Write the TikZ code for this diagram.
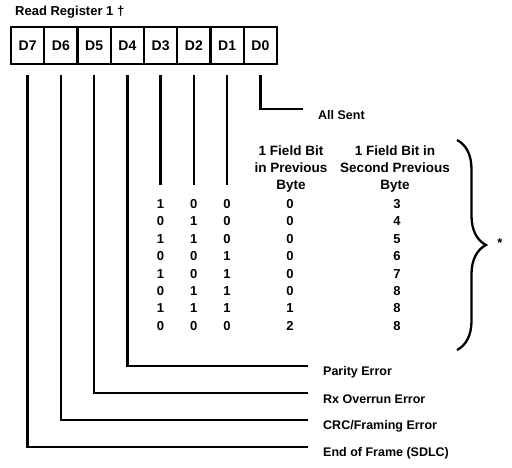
\documentclass[tikz,border=0pt]{standalone}
\usepackage{fontspec}
\setmainfont{Liberation Sans}
\usetikzlibrary{decorations.pathreplacing}
\tikzset{
  regbox/.style={draw, line width=2.4pt, minimum width=33.25pt, minimum height=37pt, inner sep=0pt,
    font=\bfseries\fontsize{14}{16}\selectfont},
  wire/.style={line width=2.6pt},
  lbl/.style={anchor=west, inner sep=0pt, font=\bfseries\fontsize{12.5}{14}\selectfont},
  cell/.style={inner sep=0pt, font=\bfseries\fontsize{13}{15}\selectfont},
  head/.style={inner sep=0pt, align=center, font=\bfseries\fontsize{13.5}{17}\selectfont},
}
\begin{document}
\begin{tikzpicture}[x=1pt,y=-1pt]
\useasboundingbox (0,0) rectangle (512,467);
\node[anchor=west, inner sep=0pt, font=\bfseries\fontsize{13}{15}\selectfont] (title) at (15,12) {Read Register 1 \textdagger};
% register boxes
\foreach \n [count=\i from 0] in {7,6,5,4,3,2,1,0} {
  \node[regbox] (d\n) at ({27.6+33.25*\i},45.5) {D\n};
}
% start coordinates of wires
\foreach \n in {7,6,5,4,3,2,1,0} {
  \coordinate (s\n) at ([yshift=-10pt]d\n.south);
}
% D0 -> All Sent
\node[lbl] (allsent) at (318,115) {All Sent};
\draw[wire] (s0) |- ([xshift=-15pt,yshift=6pt]allsent.west);
% D3..D1 short lines
\foreach \n in {3,2,1} {
  \coordinate (e\n) at (s\n |- 0,185);
  \draw[wire] (s\n) -- (e\n);
}
% table headers
\node[head] (h1) at (291,169) {1 Field Bit\\in Previous\\Byte};
\node[head] (h2) at (395,169) {1 Field Bit in\\Second Previous\\Byte};
% table rows
\foreach \a/\b/\c/\d/\e [count=\r from 0] in {1/0/0/0/3,0/1/0/0/4,1/1/0/0/5,0/0/1/0/6,1/0/1/0/7,0/1/1/0/8,1/1/1/1/8,0/0/0/2/8} {
  \node[cell] (ra\r) at (s3 |- 0,{204+17.4*\r}) {\a};
  \node[cell] (rb\r) at (s2 |- 0,{204+17.4*\r}) {\b};
  \node[cell] (rc\r) at (s1 |- 0,{204+17.4*\r}) {\c};
  \node[cell] (rd\r) at (290,{204+17.4*\r}) {\d};
  \node[cell] (re\r) at (397,{204+17.4*\r}) {\e};
}
% brace and asterisk
\coordinate (bt) at (457,140);
\coordinate (bb) at (457,350);
\draw[line width=2.3pt, decorate, decoration={brace, amplitude=29pt, aspect=0.5}] (bt) -- (bb);
\node[inner sep=0pt, font=\bfseries\fontsize{13}{15}\selectfont] (ast) at (500,243) {*};
% bottom labels
\node[lbl] (par) at (323,372) {Parity Error};
\node[lbl] (ovr) at (323,399) {Rx Overrun Error};
\node[lbl] (crc) at (323,426) {CRC/Framing Error};
\node[lbl] (eof) at (323,453) {End of Frame (SDLC)};
\draw[wire] (s4) |- ([xshift=-15pt,yshift=6pt]par.west);
\draw[wire] (s5) |- ([xshift=-15pt,yshift=6pt]ovr.west);
\draw[wire] (s6) |- ([xshift=-15pt,yshift=6pt]crc.west);
\draw[wire] (s7) |- ([xshift=-15pt,yshift=6pt]eof.west);
\end{tikzpicture}
\end{document}
